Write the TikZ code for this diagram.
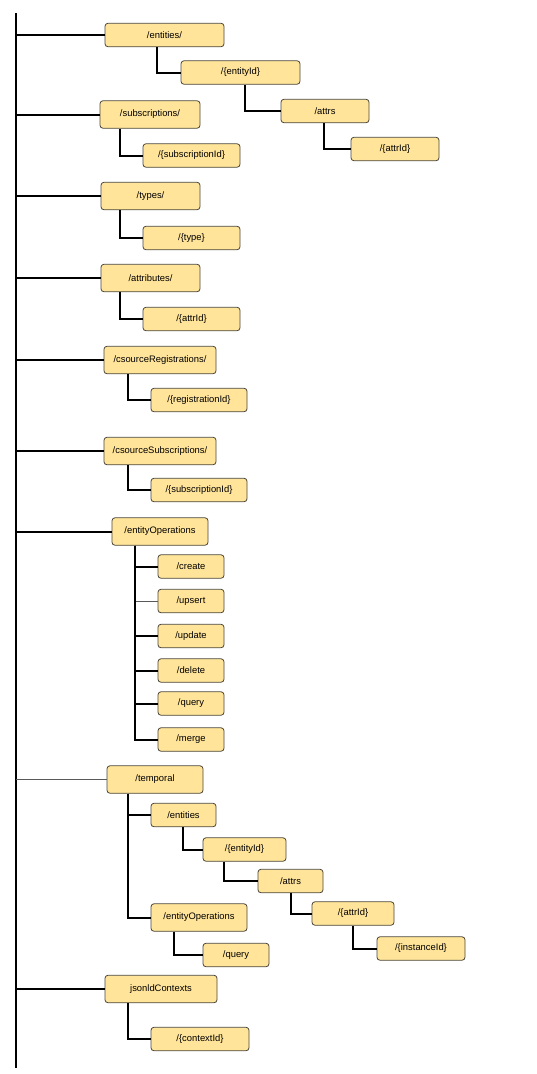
\documentclass[tikz,border=0pt]{standalone}
\usepackage{fontspec}
\setmainfont{Liberation Sans}
\usetikzlibrary{positioning}
\definecolor{RouteFill}{RGB}{255,228,153}
\definecolor{RouteLine}{RGB}{75,70,60}
\tikzset{
  route/.style={draw=RouteLine,fill=RouteFill,rounded corners=3pt,
    line width=0.8pt,minimum height=23.5pt,inner sep=1pt,
    font=\fontsize{9.4}{11}\selectfont},
  toproute/.style={route,minimum height=27.5pt},
  branch/.style={line width=2pt,black},
  thinbranch/.style={line width=0.7pt,black!65}
}

\begin{document}
\begin{tikzpicture}[x=1pt,y=-1pt]
  \useasboundingbox (0,0) rectangle (536,1074);
  \coordinate (trunktop) at (16,13);
  \coordinate (trunkbot) at (16,1068);
  \draw[branch] (trunktop) -- (trunkbot);

  % top level resources
  \node[route,minimum width=119pt] (ent) at (164.5,35) {/entities/};
  \node[toproute,minimum width=100pt] (subs) at (150,114.5) {/subscriptions/};
  \node[toproute,minimum width=99pt] (types) at (150.5,196) {/types/};
  \node[toproute,minimum width=99pt] (attribs) at (150.5,278) {/attributes/};
  \node[toproute,minimum width=112pt] (csreg) at (160,360) {/csourceRegistrations/};
  \node[toproute,minimum width=112pt] (cssub) at (160,451) {/csourceSubscriptions/};
  \node[toproute,minimum width=96pt] (entops) at (160,531.5) {/entityOperations};
  \node[toproute,minimum width=96pt] (temporal) at (155,779.5) {/temporal};
  \node[toproute,minimum width=112pt] (jsonld) at (161,989) {jsonldContexts};

  \foreach \n in {ent,subs,types,attribs,csreg,cssub,entops,jsonld}
    \draw[branch] (\n.west -| trunktop) -- (\n.west);
  \draw[thinbranch] (temporal.west -| trunktop) -- (temporal.west);

  % /entities/
  \node[route,minimum width=119pt] (entid) at (240.5,72.5) {/\{entityId\}};
  \node[route,minimum width=88pt] (attrs) at (325,111) {/attrs};
  \node[route,minimum width=88pt] (attrid) at (395,149) {/\{attrId\}};
  \draw[branch] ([xshift=52pt]ent.south west) |- (entid.west);
  \draw[branch] ([xshift=64pt]entid.south west) |- (attrs.west);
  \draw[branch] ([xshift=43pt]attrs.south west) |- (attrid.west);

  % subscriptions, types, attributes
  \node[route,minimum width=97pt] (subid) at (191.5,155.5) {/\{subscriptionId\}};
  \node[route,minimum width=97pt] (typeid) at (191.5,238) {/\{type\}};
  \node[route,minimum width=97pt] (attrname) at (191.5,319) {/\{attrId\}};
  \draw[branch] ([xshift=20pt]subs.south west) |- (subid.west);
  \draw[branch] ([xshift=19pt]types.south west) |- (typeid.west);
  \draw[branch] ([xshift=19pt]attribs.south west) |- (attrname.west);

  % context sources
  \node[route,minimum width=96pt] (regid) at (199,400) {/\{registrationId\}};
  \node[route,minimum width=96pt] (cssubid) at (199,490) {/\{subscriptionId\}};
  \draw[branch] ([xshift=24pt]csreg.south west) |- (regid.west);
  \draw[branch] ([xshift=24pt]cssub.south west) |- (cssubid.west);

  % batch operations
  \foreach \op/\y/\sty in {create/566.5/branch,upsert/601/thinbranch,
      update/636/branch,delete/670.5/branch,query/703.5/branch,merge/739.5/branch}{
    \node[route,minimum width=66pt] (op-\op) at (191,\y) {/\op};
    \draw[\sty] ([xshift=23pt]entops.south west) |- (op-\op.west);
  }

  % temporal
  \node[route,minimum width=65pt] (tents) at (183.5,815) {/entities};
  \node[route,minimum width=83pt] (tentid) at (244.5,849.5) {/\{entityId\}};
  \node[route,minimum width=65pt] (tattrs) at (290.5,881) {/attrs};
  \node[route,minimum width=82pt] (tattrid) at (353,913.5) {/\{attrId\}};
  \node[route,minimum width=88pt] (tinst) at (421,948.5) {/\{instanceId\}};
  \node[toproute,minimum width=96pt] (tops) at (199,917.5) {/entityOperations};
  \node[route,minimum width=66pt] (tquery) at (236,955) {/query};
  \draw[branch] ([xshift=21pt]temporal.south west) |- (tents.west);
  \draw[branch] ([xshift=21pt]temporal.south west) |- (tops.west);
  \draw[branch] ([xshift=32pt]tents.south west) |- (tentid.west);
  \draw[branch] ([xshift=21pt]tentid.south west) |- (tattrs.west);
  \draw[branch] ([xshift=33pt]tattrs.south west) |- (tattrid.west);
  \draw[branch] ([xshift=41pt]tattrid.south west) |- (tinst.west);
  \draw[branch] ([xshift=23pt]tops.south west) |- (tquery.west);

  % json-ld contexts
  \node[route,minimum width=98pt] (ctxid) at (200,1039) {/\{contextId\}};
  \draw[branch] ([xshift=23pt]jsonld.south west) |- (ctxid.west);
\end{tikzpicture}
\end{document}
